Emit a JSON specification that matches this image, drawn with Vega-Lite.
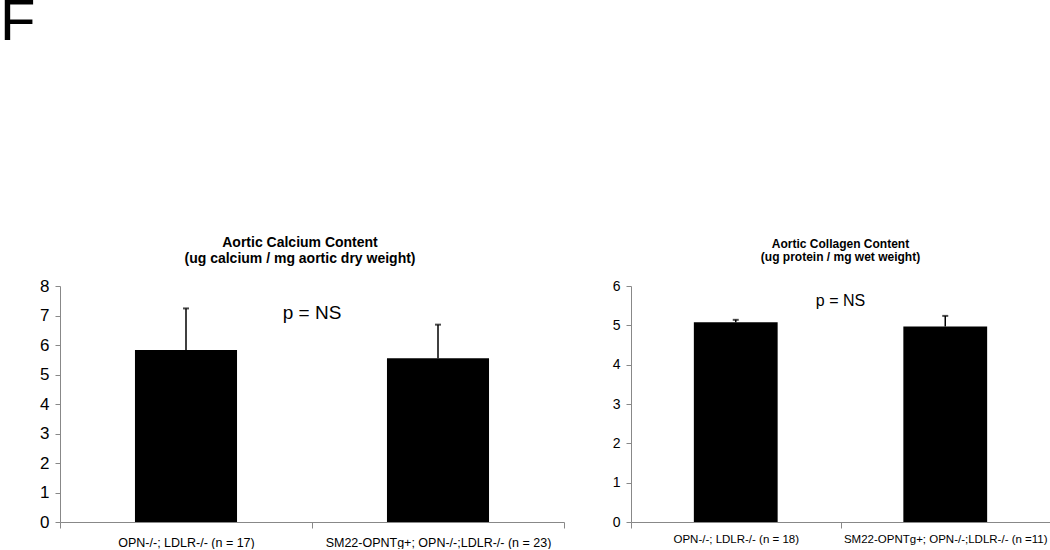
{
  "$schema": "https://vega.github.io/schema/vega-lite/v6.json",
  "background": "white",
  "padding": {"left": 0, "top": -6, "right": 0, "bottom": 0},
  "title": {"text": "F", "anchor": "start", "frame": "group", "fontSize": 58, "fontWeight": "normal", "font": "Liberation Sans", "color": "black", "dx": -60, "offset": 184},
  "config": {
    "view": {"stroke": null},
    "font": "Liberation Sans",
    "title": {"font": "Liberation Sans", "color": "black"},
    "axis": {"domainColor": "#888888", "tickColor": "#888888", "labelColor": "black", "grid": false, "labelFont": "Liberation Sans", "labelLimit": 0, "labelOverlap": false}
  },
  "spacing": 67,
  "bounds": "flush",
  "hconcat": [
    {
      "width": 504,
      "height": 236,
      "title": {"text": ["Aortic Calcium Content", "(ug calcium / mg aortic dry weight)"], "fontSize": 14, "fontWeight": "bold", "lineHeight": 16, "offset": 11, "dx": -12, "anchor": "middle"},
      "data": {"values": [
        {"group": "OPN-/-; LDLR-/- (n = 17)", "mean": 5.83, "upper": 7.24},
        {"group": "SM22-OPNTg+; OPN-/-;LDLR-/- (n = 23)", "mean": 5.55, "upper": 6.69}
      ]},
      "encoding": {
        "x": {"field": "group", "type": "nominal", "sort": null, "scale": {"paddingInner": 0, "paddingOuter": 0},
              "axis": {"title": null, "labelAngle": 0, "labelFontSize": 12.5, "tickBand": "extent", "tickSize": 6, "labelPadding": 8}},
        "y": {"field": "mean", "type": "quantitative", "scale": {"domain": [0, 8], "nice": false},
              "axis": {"title": null, "values": [0, 1, 2, 3, 4, 5, 6, 7, 8], "labelFontSize": 17, "tickSize": 5, "labelPadding": 6}}
      },
      "layer": [
        {"mark": {"type": "bar", "color": "black", "width": {"band": 0.405}}},
        {"mark": {"type": "rule", "color": "black", "strokeWidth": 1.5},
         "encoding": {"y2": {"field": "upper"}}},
        {"mark": {"type": "tick", "color": "black", "size": 6, "thickness": 2},
         "encoding": {"y": {"field": "upper", "type": "quantitative",
                            "axis": {"title": null, "values": [0, 1, 2, 3, 4, 5, 6, 7, 8], "labelFontSize": 17, "tickSize": 5, "labelPadding": 6}}}},
        {"data": {"values": [{"group": "SM22-OPNTg+; OPN-/-;LDLR-/- (n = 23)", "label": "p = NS", "ypos": 7.1}]},
         "mark": {"type": "text", "fontSize": 19, "align": "center", "baseline": "middle", "color": "black"},
         "encoding": {"x": {"field": "group", "type": "nominal", "sort": null, "bandPosition": 0},
                      "y": {"field": "ypos", "type": "quantitative",
                            "axis": {"title": null, "values": [0, 1, 2, 3, 4, 5, 6, 7, 8], "labelFontSize": 17, "tickSize": 5, "labelPadding": 6}},
                      "text": {"field": "label"}}}
      ]
    },
    {
      "width": 419,
      "height": 236,
      "title": {"text": ["Aortic Collagen Content", "(ug protein / mg wet weight)"], "fontSize": 12, "fontWeight": "bold", "lineHeight": 13, "offset": 15, "anchor": "middle"},
      "data": {"values": [
        {"group": "OPN-/-; LDLR-/- (n = 18)", "mean": 5.08, "upper": 5.14},
        {"group": "SM22-OPNTg+; OPN-/-;LDLR-/- (n =11)", "mean": 4.97, "upper": 5.24}
      ]},
      "encoding": {
        "x": {"field": "group", "type": "nominal", "sort": null, "scale": {"paddingInner": 0, "paddingOuter": 0},
              "axis": {"title": null, "labelAngle": 0, "labelFontSize": 11.5, "tickBand": "extent", "tickSize": 6, "labelPadding": 5}},
        "y": {"field": "mean", "type": "quantitative", "scale": {"domain": [0, 6], "nice": false},
              "axis": {"title": null, "values": [0, 1, 2, 3, 4, 5, 6], "labelFontSize": 14, "tickSize": 5, "labelPadding": 6}}
      },
      "layer": [
        {"mark": {"type": "bar", "color": "black", "width": {"band": 0.4}}},
        {"mark": {"type": "rule", "color": "black", "strokeWidth": 1.5},
         "encoding": {"y2": {"field": "upper"}}},
        {"mark": {"type": "tick", "color": "black", "size": 6, "thickness": 2},
         "encoding": {"y": {"field": "upper", "type": "quantitative",
                            "axis": {"title": null, "values": [0, 1, 2, 3, 4, 5, 6], "labelFontSize": 14, "tickSize": 5, "labelPadding": 6}}}},
        {"data": {"values": [{"group": "SM22-OPNTg+; OPN-/-;LDLR-/- (n =11)", "label": "p = NS", "ypos": 5.61}]},
         "mark": {"type": "text", "fontSize": 16, "align": "center", "baseline": "middle", "color": "black"},
         "encoding": {"x": {"field": "group", "type": "nominal", "sort": null, "bandPosition": 0},
                      "y": {"field": "ypos", "type": "quantitative",
                            "axis": {"title": null, "values": [0, 1, 2, 3, 4, 5, 6], "labelFontSize": 14, "tickSize": 5, "labelPadding": 6}},
                      "text": {"field": "label"}}}
      ]
    }
  ]
}
